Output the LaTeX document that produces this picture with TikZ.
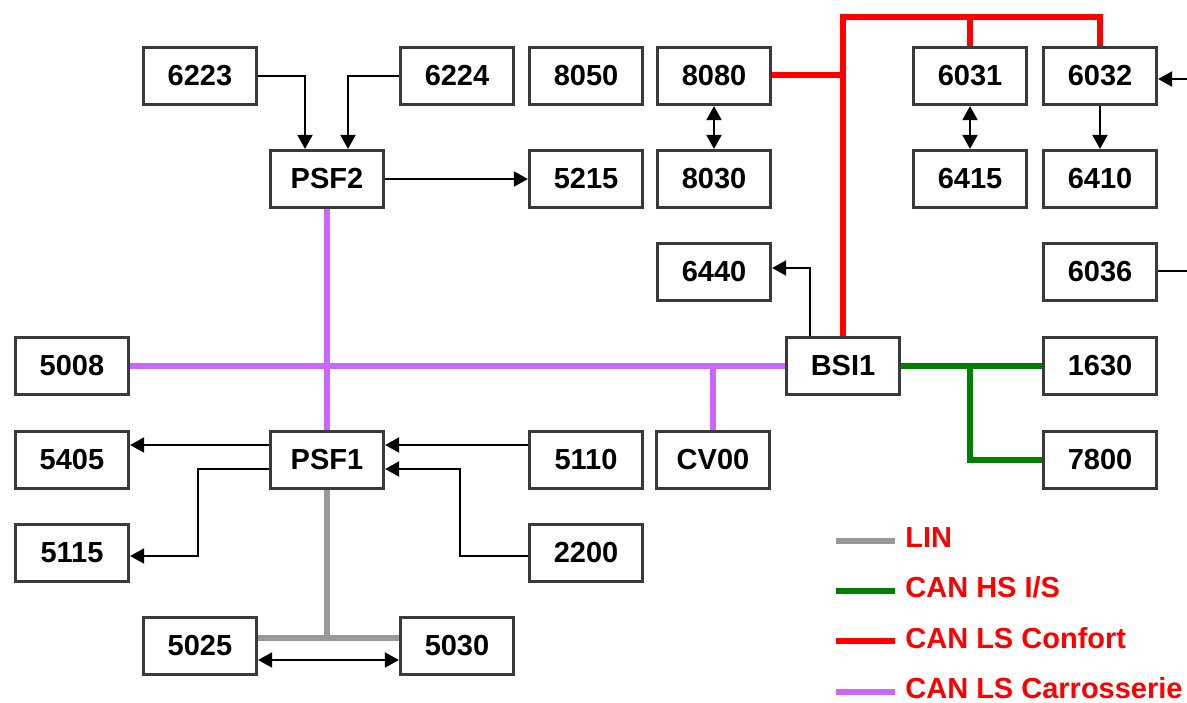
\documentclass[tikz,border=0pt]{standalone}
\usepackage{fontspec}
\setmainfont{Liberation Sans}
\usetikzlibrary{arrows.meta,calc}
\definecolor{boxborder}{HTML}{3A3A3A}
\definecolor{linbus}{HTML}{999999}
\definecolor{hsbus}{HTML}{008000}
\definecolor{confbus}{HTML}{FF0000}
\definecolor{carbus}{HTML}{CC66FF}
\tikzset{
  bx/.style={draw=boxborder, line width=1.6pt, fill=white, minimum width=56.5pt, minimum height=28.5pt, inner sep=0pt, font=\fontsize{14.5pt}{17pt}\selectfont\bfseries},
  sig/.style={line width=1pt, -{Triangle[length=7pt,width=7.5pt]}},
  sigboth/.style={line width=1pt, {Triangle[length=7pt,width=7.5pt]}-{Triangle[length=7pt,width=7.5pt]}},
  plain/.style={line width=1pt},
  linl/.style={draw=linbus, line width=2.6pt},
  hsl/.style={draw=hsbus, line width=2.6pt},
  confl/.style={draw=confbus, line width=3pt},
  carl/.style={draw=carbus, line width=2.6pt},
  legtext/.style={anchor=base west, inner sep=0pt, text=confbus, font=\fontsize{14.5pt}{17pt}\selectfont\bfseries}
}
\begin{document}
\begin{tikzpicture}[x=0.5pt,y=-0.5pt]
\useasboundingbox (0,0) rectangle (1187,702);
\coordinate (rtop) at (843,17);
\coordinate (r8080) at (843,75);
\coordinate (pcv) at (713,366);
\coordinate (gsplit) at (970,366);
\coordinate (lsplit) at (327,638);

% nodes
\node[bx] (n6223) at (200,76) {6223};
\node[bx] (n6224) at (457,76) {6224};
\node[bx] (n8050) at (586,76) {8050};
\node[bx] (n8080) at (714,76) {8080};
\node[bx] (n6031) at (970,76) {6031};
\node[bx] (n6032) at (1100,76) {6032};
\node[bx] (PSF2) at (327,179) {PSF2};
\node[bx] (n5215) at (586,179) {5215};
\node[bx] (n8030) at (714,179) {8030};
\node[bx] (n6415) at (970,179) {6415};
\node[bx] (n6410) at (1100,179) {6410};
\node[bx] (n6440) at (714,272) {6440};
\node[bx] (n6036) at (1100,272) {6036};
\node[bx] (n5008) at (72,366) {5008};
\node[bx] (BSI1) at (843,366) {BSI1};
\node[bx] (n1630) at (1100,366) {1630};
\node[bx] (n5405) at (72,460) {5405};
\node[bx] (PSF1) at (327,460) {PSF1};
\node[bx] (n5110) at (586,460) {5110};
\node[bx] (CV00) at (713,460) {CV00};
\node[bx] (n7800) at (1100,460) {7800};
\node[bx] (n5115) at (72,553) {5115};
\node[bx] (n2200) at (586,553) {2200};
\node[bx] (n5025) at (200,646) {5025};
\node[bx] (n5030) at (457,646) {5030};

% CAN LS Confort (red)
\draw[confl] (BSI1.north) -- (rtop) -| (n6032.north);
\draw[confl] (n6031.north) -- (n6031.north |- rtop);
\draw[confl] (n8080.east |- r8080) -- (r8080);

% CAN LS Carrosserie (purple)
\draw[carl] (n5008.east) -- (BSI1.west);
\draw[carl] (PSF2.south) -- (PSF1.north);
\draw[carl] (pcv) -- (CV00.north);

% CAN HS I/S (green)
\draw[hsl] (BSI1.east) -- (n1630.west);
\draw[hsl] (gsplit) |- (n7800.west);

% LIN (gray)
\draw[linl] (PSF1.south) -- (lsplit);
\draw[linl] (n5025.east |- lsplit) -- (n5030.west |- lsplit);

% signal arrows
\draw[sig] (n6223.east) -| ($(PSF2.north)+(-22,0)$);
\draw[sig] (n6224.west) -| ($(PSF2.north)+(21,0)$);
\draw[sig] (PSF2.east) -- (n5215.west);
\draw[sigboth] (n8080.south) -- (n8030.north);
\draw[sigboth] (n6031.south) -- (n6415.north);
\draw[sig] (n6032.south) -- (n6410.north);
\coordinate (edge1) at (1187,79);
\draw[sig] (edge1) -- (edge1 -| n6032.east);
\coordinate (edge2) at (1187,271);
\draw[plain] (n6036.east |- edge2) -- (edge2);
\draw[sig] ($(BSI1.north)+(-33,0)$) |- ($(n6440.east)+(0,-4)$);
\draw[sig] ($(PSF1.west)+(0,-15)$) -- ($(n5405.east)+(0,-15)$);
\draw[sig] ($(PSF1.west)+(0,9)$) -| (198,556) -- (n5115.east |- 0,556);
\draw[sig] ($(n5110.west)+(0,-15)$) -- ($(PSF1.east)+(0,-15)$);
\draw[sig] ($(n2200.west)+(0,3)$) -| (460,469) -- (PSF1.east |- 0,469);
\draw[sigboth] ($(n5025.east)+(0,14)$) -- ($(n5030.west)+(0,14)$);

% legend
\coordinate (lg1) at (836,541);
\coordinate (lg2) at (836,591);
\coordinate (lg3) at (836,641);
\coordinate (lg4) at (836,692);
\draw[linl] (lg1) -- ++(59,0);
\draw[hsl] (lg2) -- ++(59,0);
\draw[confl] (lg3) -- ++(59,0);
\draw[carl] (lg4) -- ++(59,0);
\node[legtext] (t1) at (905,547) {LIN};
\node[legtext] (t2) at (905,597) {CAN HS I/S};
\node[legtext] (t3) at (905,648) {CAN LS Confort};
\node[legtext] (t4) at (905,698) {CAN LS Carrosserie};
\end{tikzpicture}
\end{document}
